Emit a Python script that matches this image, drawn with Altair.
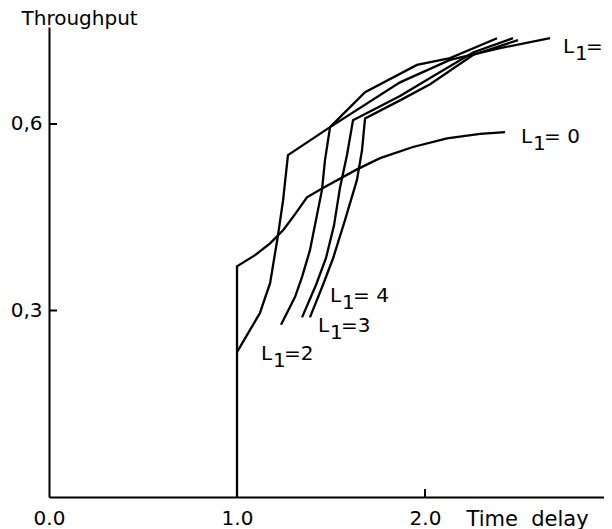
import altair as alt
import pandas as pd

# ---- curve data (Time delay, Throughput) ----
l0_x = [1.0, 1.0, 1.096, 1.176, 1.245, 1.309, 1.372, 1.457, 1.638, 1.761, 1.936, 2.117, 2.293, 2.426]
l0_y = [0.0, 0.371, 0.389, 0.408, 0.429, 0.455, 0.482, 0.497, 0.527, 0.545, 0.563, 0.577, 0.584, 0.587]

l1_x = [1.0, 1.122, 1.176, 1.218, 1.245, 1.271, 1.495, 1.867, 2.133, 2.399, 2.665]
l1_y = [0.233, 0.296, 0.344, 0.421, 0.477, 0.550, 0.595, 0.667, 0.703, 0.722, 0.738]

l2_x = [1.234, 1.309, 1.346, 1.388, 1.452, 1.468, 1.495, 1.681, 1.957, 2.133, 2.383]
l2_y = [0.277, 0.322, 0.354, 0.397, 0.494, 0.542, 0.595, 0.651, 0.695, 0.706, 0.738]

l3_x = [1.346, 1.420, 1.473, 1.516, 1.548, 1.585, 1.617, 1.867, 2.027, 2.255, 2.468]
l3_y = [0.289, 0.341, 0.384, 0.437, 0.498, 0.550, 0.606, 0.645, 0.674, 0.715, 0.738]

l4_x = [1.388, 1.457, 1.511, 1.574, 1.638, 1.665, 1.681, 1.867, 2.027, 2.255, 2.495]
l4_y = [0.289, 0.341, 0.384, 0.445, 0.510, 0.558, 0.609, 0.638, 0.664, 0.711, 0.735]

series_names = ["L1=0", "L1=1", "L1=2", "L1=3", "L1=4"]
series_x = [l0_x, l1_x, l2_x, l3_x, l4_x]
series_y = [l0_y, l1_y, l2_y, l3_y, l4_y]

# ---- curve labels ----
label_x = [2.511, 2.734, 1.128, 1.431, 1.495]
label_y = [0.569, 0.714, 0.220, 0.265, 0.314]
label_rest = ["=\u00a00", "=\u00a01", "=2", "=3", "=\u00a04"]

# ---- axis ticks ----
x_ticks = [0.0, 1.0, 2.0]
y_ticks = [0.3, 0.6]

rows = []
for name, xs, ys in zip(series_names, series_x, series_y):
    for i, (a, b) in enumerate(zip(xs, ys)):
        rows.append({"series": name, "order": i, "x": a, "y": b})
df = pd.DataFrame(rows)

lab = pd.DataFrame({"x": label_x, "y": label_y, "rest": label_rest})
ytick_df = pd.DataFrame({"y": y_ticks})
xtick_df = pd.DataFrame({"x": [v for v in x_ticks if v > 0]})

FONT = "DejaVu Sans"
W, H = 555, 470
xscale = alt.Scale(domain=[0, 2.952], nice=False, zero=False)
yscale = alt.Scale(domain=[0, 0.756], nice=False, zero=False)

x_axis = alt.Axis(
    values=x_ticks, format=".1f", ticks=False, tickSize=0, grid=False,
    labelFont=FONT, labelFontSize=20, labelColor="black",
    labelBaseline="alphabetic", labelPadding=27, labelFlush=False, labelOverlap=False,
    domainColor="black", domainWidth=2,
    title="Time\u00a0\u00a0delay", titleFont=FONT, titleFontSize=21, titleFontWeight="normal",
    titleColor="black", titleAlign="left", titleBaseline="alphabetic",
    titleX=417, titleY=28,
)
y_axis = alt.Axis(
    values=y_ticks, ticks=False, tickSize=0, grid=False,
    labelExpr="replace(format(datum.value, '.1f'), '.', ',')",
    labelFont=FONT, labelFontSize=20, labelColor="black", labelPadding=7,
    labelFlush=False, labelOverlap=False,
    domainColor="black", domainWidth=2,
    title="Throughput", titleFont=FONT, titleFontSize=20, titleFontWeight="normal",
    titleColor="black", titleAngle=0, titleAlign="left", titleBaseline="alphabetic",
    titleX=-28, titleY=-3,
)

lines = alt.Chart(df).mark_line(color="black", strokeWidth=2.3).encode(
    x=alt.X("x:Q", scale=xscale, axis=x_axis),
    y=alt.Y("y:Q", scale=yscale, axis=y_axis),
    detail="series:N",
    order="order:Q",
)

yticks = alt.Chart(ytick_df).mark_rule(color="black", strokeWidth=2).encode(
    y=alt.Y("y:Q", scale=yscale),
    x=alt.value(0),
    x2=alt.value(8),
)
xticks = alt.Chart(xtick_df).mark_rule(color="black", strokeWidth=2).encode(
    x=alt.X("x:Q", scale=xscale),
    y=alt.value(H),
    y2=alt.value(H - 8),
)

base_text = alt.Chart(lab).encode(
    x=alt.X("x:Q", scale=xscale),
    y=alt.Y("y:Q", scale=yscale),
)
t_L = base_text.mark_text(align="left", baseline="alphabetic", font=FONT, fontSize=20,
                          color="black").encode(text=alt.value("L"))
t_sub = base_text.mark_text(align="left", baseline="alphabetic", font=FONT, fontSize=20,
                            color="black", dx=12, dy=7).encode(text=alt.value("1"))
t_rest = base_text.mark_text(align="left", baseline="alphabetic", font=FONT, fontSize=20,
                             color="black", dx=23).encode(text="rest:N")

chart = alt.layer(lines, yticks, xticks, t_L, t_sub, t_rest).properties(
    width=W, height=H,
    autosize=alt.AutoSizeParams(type="none"),
    padding={"left": 41, "top": 19, "right": 0, "bottom": 35},
    background="white",
).configure_view(stroke=None)

chart.save("out.html", embed_options={"renderer": "svg", "actions": False})
